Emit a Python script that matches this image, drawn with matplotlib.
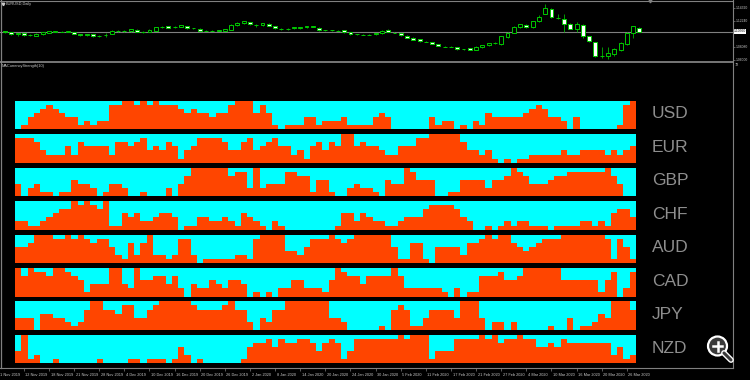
import matplotlib
matplotlib.use("Agg")
import matplotlib.pyplot as plt
import numpy as np
from matplotlib.patches import Circle

plt.rcParams['font.family'] = ['Liberation Sans', 'DejaVu Sans']

# EURUSD daily candles
opens = [1.1056, 1.1043, 1.1008, 1.1027, 1.1000, 1.0992, 1.1011, 1.1035, 1.1053, 1.1056,
         1.1045, 1.1048, 1.1008, 1.0997, 1.1011, 1.0987, 1.0997, 1.1019, 1.1061, 1.1067,
         1.1059, 1.1080, 1.1045, 1.1053, 1.1072, 1.1123, 1.1144, 1.1123, 1.1136, 1.1139,
         1.1106, 1.1101, 1.1067, 1.1070, 1.1067, 1.1072, 1.1083, 1.1160, 1.1187, 1.1203,
         1.1154, 1.1155, 1.1176, 1.1139, 1.1093, 1.1099, 1.1109, 1.1104, 1.1120, 1.1125,
         1.1115, 1.1077, 1.1074, 1.1070, 1.1075, 1.1043, 1.1013, 1.1003, 1.1006, 1.1008,
         1.1027, 1.1080, 1.1038, 1.1027, 1.0989, 1.0957, 1.0928, 1.0894, 1.0888, 1.0856,
         1.0814, 1.0811, 1.0803, 1.0773, 1.0784, 1.0768, 1.0803, 1.0835, 1.0866, 1.0856,
         1.0976, 1.1032, 1.1120, 1.1160, 1.1128, 1.1224, 1.1341, 1.1411, 1.1269, 1.1253,
         1.1173, 1.1093, 1.1157, 1.0987, 1.0883, 1.0667, 1.0667, 1.0693, 1.0757, 1.0859,
         1.1024, 1.1104]
highs = [1.1072, 1.1056, 1.1032, 1.1032, 1.1016, 1.1024, 1.1056, 1.1067, 1.1064, 1.1064,
         1.1072, 1.1056, 1.1016, 1.1016, 1.1016, 1.1000, 1.1024, 1.1075, 1.1080, 1.1080,
         1.1096, 1.1088, 1.1059, 1.1091, 1.1128, 1.1152, 1.1152, 1.1139, 1.1160, 1.1144,
         1.1117, 1.1107, 1.1080, 1.1080, 1.1080, 1.1096, 1.1171, 1.1208, 1.1229, 1.1213,
         1.1171, 1.1192, 1.1184, 1.1144, 1.1104, 1.1117, 1.1128, 1.1128, 1.1144, 1.1149,
         1.1120, 1.1085, 1.1085, 1.1080, 1.1080, 1.1048, 1.1021, 1.1016, 1.1016, 1.1032,
         1.1075, 1.1088, 1.1048, 1.1032, 1.0995, 1.0963, 1.0936, 1.0904, 1.0893, 1.0861,
         1.0824, 1.0824, 1.0808, 1.0781, 1.0789, 1.0824, 1.0845, 1.0877, 1.0888, 1.0992,
         1.1048, 1.1144, 1.1176, 1.1176, 1.1232, 1.1312, 1.1496, 1.1432, 1.1336, 1.1336,
         1.1192, 1.1208, 1.1168, 1.0992, 1.0896, 1.0813, 1.0803, 1.0787, 1.0888, 1.1040,
         1.1144, 1.1120]
lows = [1.1032, 1.1000, 1.0992, 1.0984, 1.0984, 1.0984, 1.1000, 1.1024, 1.1040, 1.1043,
        1.1040, 1.1008, 1.0992, 1.0992, 1.0976, 1.0976, 1.0976, 1.1008, 1.1051, 1.1056,
        1.1056, 1.1040, 1.1035, 1.1048, 1.1067, 1.1104, 1.1104, 1.1115, 1.1128, 1.1099,
        1.1096, 1.1064, 1.1059, 1.1059, 1.1059, 1.1064, 1.1075, 1.1152, 1.1181, 1.1165,
        1.1136, 1.1144, 1.1139, 1.1101, 1.1080, 1.1085, 1.1101, 1.1096, 1.1112, 1.1120,
        1.1069, 1.1064, 1.1064, 1.1059, 1.1037, 1.1005, 1.1000, 1.0995, 1.0995, 1.1000,
        1.1021, 1.1043, 1.1024, 1.0989, 1.0952, 1.0920, 1.0896, 1.0880, 1.0851, 1.0819,
        1.0803, 1.0803, 1.0765, 1.0760, 1.0755, 1.0760, 1.0797, 1.0829, 1.0851, 1.0848,
        1.0952, 1.1024, 1.1112, 1.1104, 1.1112, 1.1216, 1.1328, 1.1280, 1.1259, 1.1053,
        1.1088, 1.1048, 1.0944, 1.0896, 1.0648, 1.0627, 1.0611, 1.0664, 1.0744, 1.0848,
        1.0944, 1.1048]
closes = [1.1048, 1.1011, 1.1024, 1.0995, 1.1003, 1.1016, 1.1043, 1.1059, 1.1056, 1.1051,
          1.1061, 1.1016, 1.1003, 1.1013, 1.0979, 1.0990, 1.1000, 1.1067, 1.1067, 1.1070,
          1.1091, 1.1048, 1.1051, 1.1085, 1.1120, 1.1125, 1.1112, 1.1131, 1.1152, 1.1107,
          1.1109, 1.1069, 1.1070, 1.1067, 1.1072, 1.1088, 1.1163, 1.1192, 1.1219, 1.1171,
          1.1157, 1.1187, 1.1144, 1.1107, 1.1090, 1.1102, 1.1125, 1.1120, 1.1136, 1.1141,
          1.1075, 1.1074, 1.1077, 1.1067, 1.1043, 1.1011, 1.1010, 1.1006, 1.1003, 1.1024,
          1.1067, 1.1048, 1.1035, 1.0995, 1.0957, 1.0925, 1.0904, 1.0891, 1.0856, 1.0824,
          1.0811, 1.0814, 1.0771, 1.0770, 1.0760, 1.0816, 1.0835, 1.0867, 1.0869, 1.0984,
          1.1024, 1.1128, 1.1168, 1.1128, 1.1224, 1.1288, 1.1437, 1.1283, 1.1266, 1.1173,
          1.1093, 1.1173, 1.0981, 1.0907, 1.0659, 1.0661, 1.0715, 1.0773, 1.0869, 1.1035,
          1.1136, 1.1056]
price_ticks = [1.1432, 1.1224, 1.0808, 1.0600]

date_labels = ['1 Nov 2019', '12 Nov 2019', '18 Nov 2019', '21 Nov 2019', '28 Nov 2019',
               '4 Dec 2019', '10 Dec 2019', '16 Dec 2019', '20 Dec 2019', '26 Dec 2019',
               '2 Jan 2020', '8 Jan 2020', '14 Jan 2020', '20 Jan 2020', '24 Jan 2020',
               '30 Jan 2020', '5 Feb 2020', '11 Feb 2020', '17 Feb 2020', '21 Feb 2020',
               '27 Feb 2020', '4 Mar 2020', '10 Mar 2020', '16 Mar 2020', '20 Mar 2020',
               '26 Mar 2020']

# currency strength rank (0 = weakest .. 7 = strongest), one value per bar
currencies = ['USD', 'EUR', 'GBP', 'CHF', 'AUD', 'CAD', 'JPY', 'NZD']
usd = [0, 1, 3, 4, 5, 6, 5, 4, 3, 3, 1, 2, 1, 2, 2, 6, 6, 7, 7, 6,
       7, 6, 7, 6, 6, 6, 5, 4, 5, 4, 4, 3, 4, 4, 6, 7, 7, 7, 4, 6,
       4, 1, 0, 1, 1, 1, 3, 3, 1, 2, 2, 2, 3, 1, 1, 1, 1, 3, 4, 3,
       0, 0, 0, 0, 0, 0, 3, 1, 2, 2, 0, 1, 0, 2, 1, 4, 3, 3, 3, 3,
       3, 4, 5, 6, 5, 3, 3, 2, 0, 3, 0, 0, 0, 0, 0, 0, 1, 6, 7]
eur = [6, 6, 6, 5, 3, 2, 2, 2, 4, 2, 5, 4, 4, 4, 4, 2, 5, 5, 4, 5,
       6, 3, 4, 3, 5, 4, 1, 3, 4, 6, 6, 6, 6, 5, 3, 3, 5, 6, 3, 4,
       5, 6, 4, 4, 2, 3, 1, 4, 5, 3, 5, 4, 7, 7, 4, 5, 4, 4, 3, 2,
       2, 4, 4, 4, 6, 6, 7, 7, 7, 7, 7, 5, 3, 3, 2, 3, 1, 0, 1, 0,
       1, 1, 2, 2, 2, 2, 2, 3, 2, 2, 3, 3, 3, 3, 2, 3, 2, 3, 4]
gbp = [3, 0, 2, 3, 1, 1, 0, 1, 1, 4, 3, 3, 2, 0, 1, 3, 3, 2, 0, 0,
       1, 0, 0, 0, 2, 0, 3, 5, 7, 7, 7, 7, 7, 7, 5, 6, 6, 2, 7, 2,
       3, 3, 3, 6, 6, 5, 5, 1, 4, 4, 1, 0, 0, 2, 3, 2, 2, 1, 0, 4,
       3, 3, 7, 6, 4, 4, 4, 0, 0, 1, 1, 4, 4, 4, 4, 2, 4, 4, 5, 7,
       6, 5, 3, 3, 3, 4, 5, 5, 6, 6, 6, 6, 6, 6, 7, 5, 3, 0, 0]
chf = [2, 2, 1, 1, 2, 3, 4, 5, 5, 7, 6, 7, 6, 5, 7, 1, 1, 4, 3, 4,
       2, 2, 3, 4, 4, 3, 0, 1, 1, 3, 3, 2, 2, 3, 2, 1, 4, 3, 2, 1,
       0, 2, 1, 0, 0, 0, 0, 0, 0, 0, 0, 1, 4, 4, 2, 4, 3, 2, 2, 1,
       1, 2, 3, 3, 3, 5, 6, 6, 6, 6, 5, 3, 2, 0, 0, 1, 0, 1, 2, 1,
       2, 2, 1, 1, 1, 0, 1, 1, 1, 1, 2, 2, 1, 2, 1, 4, 5, 5, 3]
aud = [4, 4, 5, 7, 7, 7, 6, 6, 7, 6, 7, 6, 5, 6, 6, 4, 2, 1, 5, 2,
       5, 7, 2, 2, 1, 2, 6, 6, 2, 0, 1, 1, 1, 1, 1, 2, 2, 1, 6, 7,
       7, 7, 7, 3, 3, 2, 4, 6, 6, 6, 7, 6, 5, 6, 7, 7, 7, 7, 7, 7,
       4, 1, 1, 5, 5, 1, 0, 4, 4, 4, 4, 2, 5, 5, 6, 7, 6, 7, 7, 5,
       4, 3, 4, 5, 6, 6, 6, 7, 7, 7, 7, 7, 7, 7, 6, 1, 6, 4, 1]
cad = [7, 5, 7, 6, 6, 5, 7, 7, 6, 5, 4, 1, 3, 3, 3, 7, 7, 3, 2, 7,
       4, 4, 5, 5, 3, 5, 2, 0, 3, 2, 2, 4, 3, 2, 4, 4, 3, 0, 1, 0,
       1, 0, 2, 2, 4, 4, 2, 2, 2, 1, 4, 7, 6, 5, 5, 3, 5, 5, 5, 5,
       7, 5, 2, 2, 2, 2, 2, 2, 1, 0, 2, 0, 1, 1, 5, 5, 5, 6, 4, 4,
       5, 7, 7, 7, 7, 7, 7, 4, 4, 4, 4, 4, 4, 1, 4, 6, 0, 2, 6]
jpy = [3, 3, 3, 0, 4, 4, 3, 3, 2, 1, 2, 5, 7, 7, 5, 5, 4, 6, 6, 3,
       3, 5, 6, 7, 7, 7, 7, 7, 6, 5, 5, 5, 5, 6, 7, 5, 5, 2, 0, 3,
       2, 5, 5, 7, 7, 7, 7, 7, 7, 7, 3, 3, 2, 0, 0, 0, 0, 0, 1, 0,
       5, 6, 5, 1, 1, 3, 5, 5, 5, 5, 3, 7, 7, 7, 3, 0, 2, 2, 0, 2,
       0, 0, 0, 0, 0, 1, 0, 0, 3, 0, 1, 1, 2, 4, 3, 7, 7, 7, 5]
nzd = [3, 7, 1, 2, 0, 0, 1, 0, 0, 0, 0, 0, 0, 1, 0, 0, 0, 0, 1, 1,
       0, 1, 1, 1, 0, 1, 4, 2, 0, 1, 0, 0, 0, 0, 0, 0, 1, 4, 5, 5,
       6, 4, 6, 5, 5, 6, 6, 5, 3, 5, 6, 5, 1, 3, 6, 6, 6, 6, 6, 6,
       6, 7, 6, 7, 7, 7, 1, 3, 3, 3, 6, 6, 6, 6, 7, 6, 7, 5, 6, 6,
       7, 6, 6, 4, 4, 5, 4, 6, 5, 5, 5, 5, 5, 5, 5, 2, 4, 1, 2]
strength = [usd, eur, gbp, chf, aud, cad, jpy, nzd]

W, H = 750, 380
GRAY = '#808080'
TXT = '#c8c8c8'
CANDLE_X = (-0.8, 115.9)

fig = plt.figure(figsize=(W / 100, H / 100), dpi=100, facecolor='black')


def px_axes(x, y, w, h):
    # axes placed with pixel coordinates measured from the top-left corner
    return fig.add_axes([x / W, 1 - (y + h) / H, w / W, h / H])


# --- price window
ax = px_axes(0, 0, 733, 61)
ax.set_facecolor('black')
o = np.array(opens)
c = np.array(closes)
idx = np.arange(len(c))
ax.vlines(idx, lows, highs, color='#00b400', lw=0.6, zorder=1)
up = c >= o
bottom = np.minimum(o, c)
height = np.maximum(np.abs(c - o), 0.0004)
ax.bar(idx[up], height[up], bottom=bottom[up], width=0.62,
       facecolor='black', edgecolor='#00c800', lw=0.7, zorder=2)
ax.bar(idx[~up], height[~up], bottom=bottom[~up], width=0.62,
       facecolor='white', edgecolor='#00c800', lw=0.7, zorder=2)
ax.axhline(closes[-1], color=GRAY, lw=0.8, zorder=0)
ax.set_xlim(*CANDLE_X)
ax.set_ylim(1.0584, 1.1560)
ax.set_xticks([])
ax.yaxis.tick_right()
ax.set_yticks(price_ticks)
ax.set_yticklabels([f'{p:.5f}' for p in price_ticks])
ax.tick_params(axis='y', length=1.2, width=0.5, color=GRAY, labelcolor=TXT,
               labelsize=2.4, pad=0.6)
for s in ax.spines.values():
    s.set_visible(False)
ax.text(1.001, closes[-1], f'{closes[-1]:.5f}', transform=ax.get_yaxis_transform(),
        fontsize=2.4, color='black', va='center', ha='left',
        bbox=dict(boxstyle='square,pad=0.15', fc='white', ec='none'))

# --- currency strength panels
for k, (name, vals) in enumerate(zip(currencies, strength)):
    top = 100.7 + 33.45 * k
    pax = px_axes(15, top, 621, 28.6)
    pax.set_facecolor('#00ffff')
    pax.bar(np.arange(len(vals)), vals, width=1.0, align='edge',
            color='#ff4500', lw=0)
    pax.set_xlim(0, len(vals))
    pax.set_ylim(0, 7)
    pax.set_xticks([])
    pax.set_yticks([])
    for s in pax.spines.values():
        s.set_visible(False)
    fig.text(652 / W, 1 - (top + 13.3) / H, name, fontsize=12.5, color='#8e8e8e',
             ha='left', va='center')

# --- date axis
dax = px_axes(0, 368, 733, 12)
dax.set_xlim(*CANDLE_X)
dax.set_ylim(1, 0)
dax.axis('off')
for i, lab in enumerate(date_labels):
    pos = 4 * i - 1
    dax.vlines(pos, 0, 0.22, color=GRAY, lw=0.5)
    dax.text(pos + 0.25, 0.55, lab, fontsize=2.8, color=TXT, ha='left', va='center')

# --- window frame and captions
ov = fig.add_axes([0, 0, 1, 1])
ov.set_xlim(0, W)
ov.set_ylim(H, 0)
ov.axis('off')
ov.patch.set_alpha(0)
ov.plot([0, 733], [0.5, 0.5], color=GRAY, lw=0.8)
ov.plot([0.6, 0.6], [0, 368], color=GRAY, lw=0.9)
ov.plot([732.5, 732.5], [0, 368], color=GRAY, lw=0.8)
ov.plot([0, 733], [61.8, 61.8], color=GRAY, lw=1.3)
ov.plot([0, 733], [368.3, 368.3], color=GRAY, lw=0.8)
ov.plot([650], [1.2], marker='v', ms=2, color=GRAY)
ov.plot([3.2], [3.6], marker='v', ms=1.8, color=TXT)
ov.text(6, 3.6, 'EURUSD,Daily', fontsize=2.8, color=TXT, va='center', ha='left')
ov.text(2, 66, 'MACurrencyStrength(10)', fontsize=2.8, color=TXT, va='center', ha='left')
ov.text(735, 64.5, '72', fontsize=2.8, color=TXT, va='center', ha='left')

# zoom badge in the lower right corner
ov.plot([724, 731], [353, 360], color='white', lw=4.2, solid_capstyle='round')
ov.plot([724, 731], [353, 360], color='#3a3a3a', lw=2.2, solid_capstyle='round')
ov.add_patch(Circle((717.5, 346), 9.5, facecolor='#3a3a3a', edgecolor='white', lw=1.6))
ov.plot([713, 722], [346, 346], color='white', lw=1.8)
ov.plot([717.5, 717.5], [341.5, 350.5], color='white', lw=1.8)

fig.savefig('out.png', dpi=100, facecolor='black')
